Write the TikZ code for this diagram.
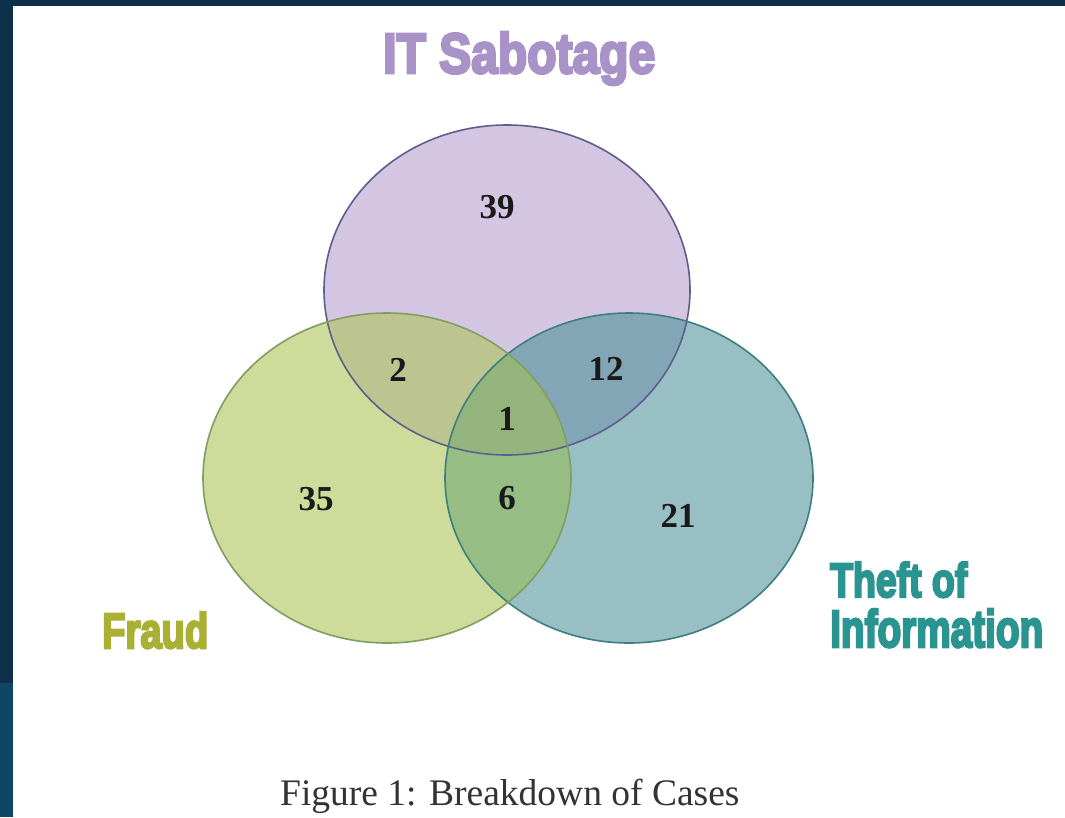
\documentclass[tikz,border=0pt]{standalone}
\usepackage{fontspec}
\usepackage{graphicx}
\setmainfont{Liberation Serif}
\newfontfamily\heavyfont{Liberation Sans}[FakeBold=5]

\definecolor{navytop}{HTML}{0C3049}
\definecolor{navylow}{HTML}{0F4565}
\definecolor{sabfill}{HTML}{D4C6E2}
\definecolor{fraudfill}{HTML}{CDDC9A}
\definecolor{theftfill}{HTML}{98BFC3}
\definecolor{sabfraud}{HTML}{BCC58F}
\definecolor{sabtheft}{HTML}{83A6B7}
\definecolor{fraudtheft}{HTML}{95BD84}
\definecolor{allthree}{HTML}{93B47D}
\definecolor{sabline}{HTML}{5D5E8C}
\definecolor{fraudline}{HTML}{7F9E62}
\definecolor{theftline}{HTML}{3F7E80}
\definecolor{sabtext}{HTML}{A892C8}
\definecolor{fraudtext}{HTML}{A9B034}
\definecolor{thefttext}{HTML}{2A9490}
\definecolor{numtext}{HTML}{1A1A1A}
\definecolor{captext}{HTML}{333333}

\tikzset{
  ell/.style={x radius=184pt, y radius=165pt},
  num/.style={inner sep=0pt, text=numtext, font=\fontsize{35}{35}\selectfont\bfseries},
  setlabel/.style={anchor=base west, inner sep=0pt},
  outline/.style={line width=1.6pt}
}

\begin{document}
\begin{tikzpicture}[x=1pt,y=-1pt]
\useasboundingbox (0,0) rectangle (1065,817);
\fill[white] (0,0) rectangle (1065,817);
% page frame
\fill[navytop] (0,0) rectangle (1065,6);
\fill[navytop] (0,0) rectangle (13,683);
\fill[navylow] (0,683) rectangle (13,817);

% set centres
\coordinate (S) at (507,290);
\coordinate (F) at (387,478);
\coordinate (T) at (629,478);

% single sets
\fill[sabfill]   (S) ellipse [ell, x radius=183pt];
\fill[theftfill] (T) ellipse [ell];
\fill[fraudfill] (F) ellipse [ell];

% pairwise overlaps
\begin{scope}
  \clip (S) ellipse [ell, x radius=183pt];
  \fill[sabfraud] (F) ellipse [ell];
  \fill[sabtheft] (T) ellipse [ell];
\end{scope}
\begin{scope}
  \clip (F) ellipse [ell];
  \fill[fraudtheft] (T) ellipse [ell];
\end{scope}
% triple overlap
\begin{scope}
  \clip (S) ellipse [ell, x radius=183pt];
  \clip (F) ellipse [ell];
  \fill[allthree] (T) ellipse [ell];
\end{scope}

% outlines
\draw[outline, sabline]   (S) ellipse [ell, x radius=183pt];
\draw[outline, theftline] (T) ellipse [ell];
\draw[outline, fraudline] (F) ellipse [ell];

% counts
\node[num] (n39) at (497,207) {39};
\node[num] (n2)  at (398,370) {2};
\node[num] (n12) at (606,369) {12};
\node[num] (n1)  at (507,419) {1};
\node[num] (n35) at (316,499) {35};
\node[num] (n6)  at (507,498) {6};
\node[num] (n21) at (678,516) {21};

% set names
\node[setlabel, text=sabtext]   (lsab)   at (383,73)  {\resizebox{272pt}{41pt}{\heavyfont\bfseries IT Sabotage}};
\node[setlabel, text=fraudtext] (lfraud) at (102,648) {\resizebox{106pt}{36pt}{\heavyfont\bfseries Fraud}};
\node[setlabel, text=thefttext] (ltheft) at (830,597) {\resizebox{137pt}{35pt}{\heavyfont\bfseries Theft of}};
\node[setlabel, text=thefttext] (linfo)  at (830,647) {\resizebox{213pt}{38pt}{\heavyfont\bfseries Information}};

% caption
\node[anchor=base west, inner sep=0pt, text=captext] (cap) at (280,805)
  {\fontsize{37.5}{37.5}\selectfont Figure 1: Breakdown of Cases};
\end{tikzpicture}
\end{document}
